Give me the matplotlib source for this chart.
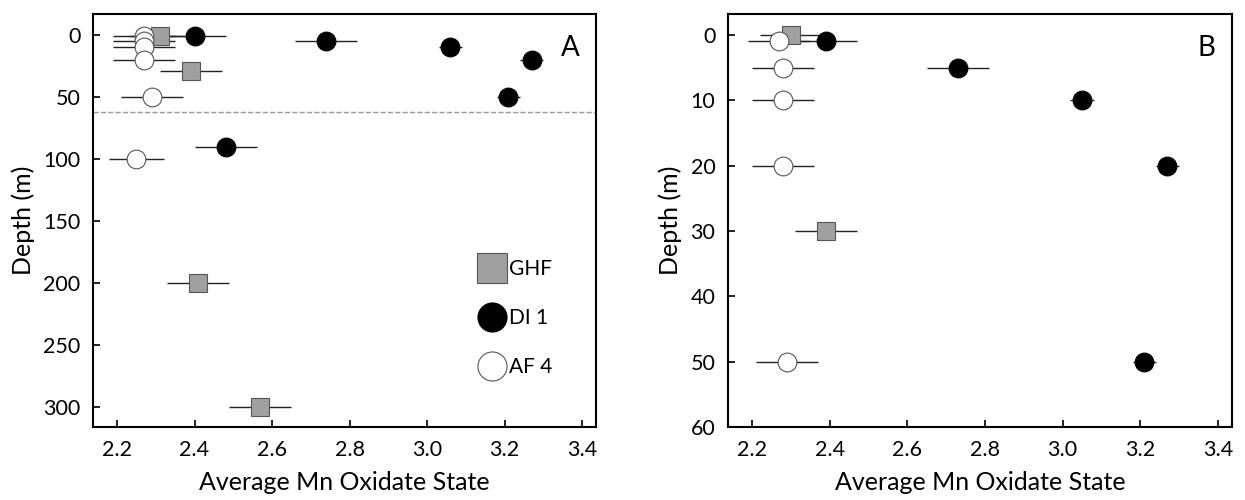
import numpy as np
import matplotlib.pyplot as plt

plt.rcParams['font.family'] = ['Lato', 'DejaVu Sans']

# Panel A (full water column)
ghf_a_x = [2.31, 2.39, 2.41, 2.57]
ghf_a_y = [1, 29, 200, 300]
ghf_a_err = [0.08, 0.08, 0.08, 0.08]

di1_a_x = [2.40, 2.74, 3.06, 3.27, 3.21, 2.48]
di1_a_y = [1, 5, 10, 20, 50, 90]
di1_a_err = [0.08, 0.08, 0.03, 0.03, 0.03, 0.08]

af4_a_x = [2.27, 2.27, 2.27, 2.27, 2.29, 2.25]
af4_a_y = [1, 5, 10, 20, 50, 100]
af4_a_err = [0.08, 0.08, 0.08, 0.08, 0.08, 0.07]

mixed_layer = 62

# Panel B (upper 60 m)
ghf_b_x = [2.30, 2.39]
ghf_b_y = [0, 30]
ghf_b_err = [0.08, 0.08]

di1_b_x = [2.39, 2.73, 3.05, 3.27, 3.21]
di1_b_y = [1, 5, 10, 20, 50]
di1_b_err = [0.08, 0.08, 0.03, 0.03, 0.03]

af4_b_x = [2.27, 2.28, 2.28, 2.28, 2.29]
af4_b_y = [1, 5, 10, 20, 50]
af4_b_err = [0.08, 0.08, 0.08, 0.08, 0.08]

xticks = [2.2, 2.4, 2.6, 2.8, 3.0, 3.2, 3.4]


def draw(ax, ghf, di1, af4, ms):
    for (x, y, e), fc, mk, lab in [(ghf, '#a0a0a0', 's', 'GHF'),
                                   (di1, 'black', 'o', 'DI 1'),
                                   (af4, 'white', 'o', 'AF 4')]:
        ax.errorbar(x, y, xerr=e, fmt=mk, ms=ms, mfc=fc,
                    mec='#555555' if mk == 's' or fc == 'white' else 'black',
                    mew=0.8, ecolor='#222222', elinewidth=1.0, capsize=0,
                    label=lab)


fig = plt.figure(figsize=(12.45, 5), dpi=100)
axA = fig.add_axes([0.0747, 0.146, 0.404, 0.826])
axB = fig.add_axes([0.5847, 0.146, 0.4048, 0.826])

draw(axA, (ghf_a_x, ghf_a_y, ghf_a_err), (di1_a_x, di1_a_y, di1_a_err),
     (af4_a_x, af4_a_y, af4_a_err), 13.5)
axA.axhline(mixed_layer, color='#999999', ls='--', lw=1.0, zorder=0)
axA.set_ylim(316, -17)
axA.set_yticks([0, 50, 100, 150, 200, 250, 300])

draw(axB, (ghf_b_x, ghf_b_y, ghf_b_err), (di1_b_x, di1_b_y, di1_b_err),
     (af4_b_x, af4_b_y, af4_b_err), 13.5)
axB.set_ylim(60, -3.2)
axB.set_yticks([0, 10, 20, 30, 40, 50, 60])

for ax, letter in [(axA, 'A'), (axB, 'B')]:
    ax.set_xlim(2.138, 3.436)
    ax.set_xticks(xticks)
    ax.set_xticklabels([f'{v:.1f}' for v in xticks])
    ax.tick_params(direction='in', length=5, width=1.2, labelsize=15.5, pad=9)
    for s in ax.spines.values():
        s.set_linewidth(1.5)
    ax.set_xlabel('Average Mn Oxidate State', fontsize=18, labelpad=8)
    ax.set_ylabel('Depth (m)', fontsize=18, labelpad=6)
    ax.text(0.968, 0.95, letter, transform=ax.transAxes, fontsize=20,
            ha='right', va='top')

h, l = axA.get_legend_handles_labels()
leg = axA.legend(h, l, loc='lower right', bbox_to_anchor=(0.95, 0.075),
                 frameon=False, fontsize=15, markerscale=1.55, handlelength=1.0,
                 handletextpad=0.3, labelspacing=1.4)

fig.savefig('out.png', dpi=100)
